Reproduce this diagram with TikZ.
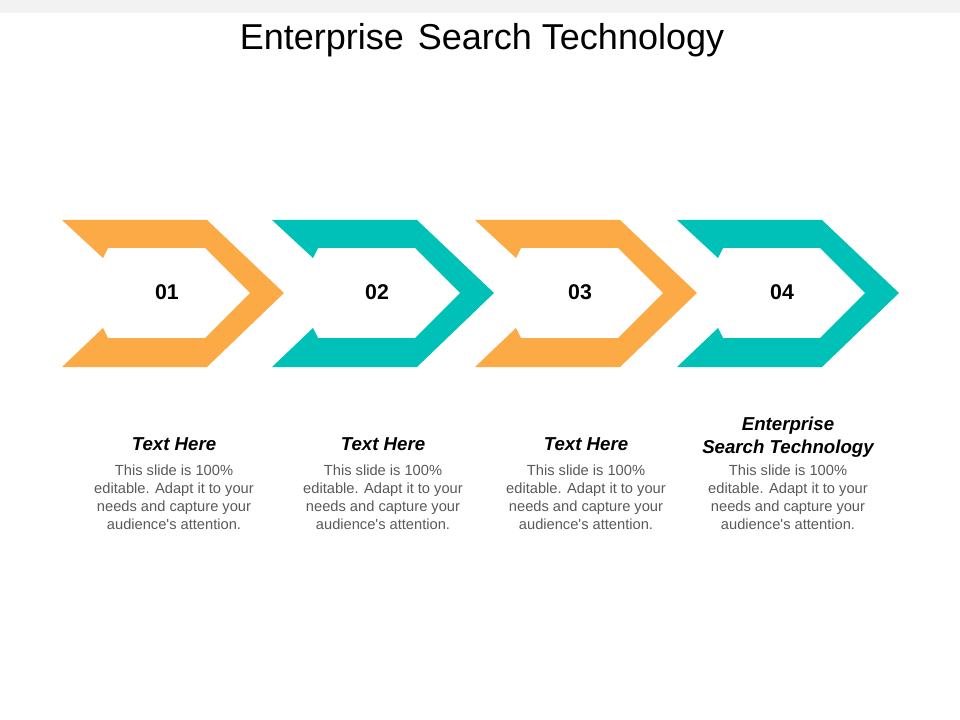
\documentclass[tikz,border=0pt]{standalone}
\usepackage{fontspec}
\setmainfont{Liberation Sans}
\definecolor{chevorange}{HTML}{FBAA45}
\definecolor{chevteal}{HTML}{00C1B8}
\definecolor{bodygray}{HTML}{595959}
\tikzset{
  chevnum/.style={font=\bfseries\fontsize{16}{19}\selectfont, anchor=base},
  headtext/.style={font=\bfseries\itshape\fontsize{14}{17.25}\selectfont, align=center, inner sep=0, anchor=base},
  bodytext/.style={font=\fontsize{11}{13.5}\selectfont, text=bodygray, align=center, inner sep=0, anchor=north},
}
\begin{document}
\begin{tikzpicture}[x=0.75pt, y=-0.75pt]
  \useasboundingbox (0,0) rectangle (960,720);
  \fill[black!5] (0,0) rectangle (960,13);
  \node[anchor=base, font=\fontsize{27}{32}\selectfont] (title) at (482,49.5) {Enterprise\hspace{3pt} Search Technology};
  % chevrons
  \foreach \n/\lft/\col in {1/62/chevorange, 2/272/chevteal, 3/475/chevorange, 4/677/chevteal} {
    \fill[\col] (\lft,220) -- ++(145,0) -- ++(77,73) -- ++(-77,74) -- ++(-145,0) -- ++(41,-39) -- ++(5,10)
      -- ++(97,0) -- ++(45,-45) -- ++(-45,-45) -- ++(-97,0) -- ++(-5,10) -- cycle;
    \node[chevnum] (num\n) at (\lft+105,299.5) {0\n};
  }
  % texts
  \node[headtext] (head1) at (174,450) {Text Here};
  \node[headtext] (head2) at (383,450) {Text Here};
  \node[headtext] (head3) at (586,450) {Text Here};
  \node[headtext] (head4) at (788,453) {Enterprise\\Search Technology};
  \foreach \n/\cx in {1/174, 2/383, 3/586, 4/788}
    \node[bodytext] (body\n) at (\cx,465) {This slide is 100\%\\editable. Adapt it to your\\needs and capture your\\audience\textquotesingle s attention.};
\end{tikzpicture}
\end{document}
